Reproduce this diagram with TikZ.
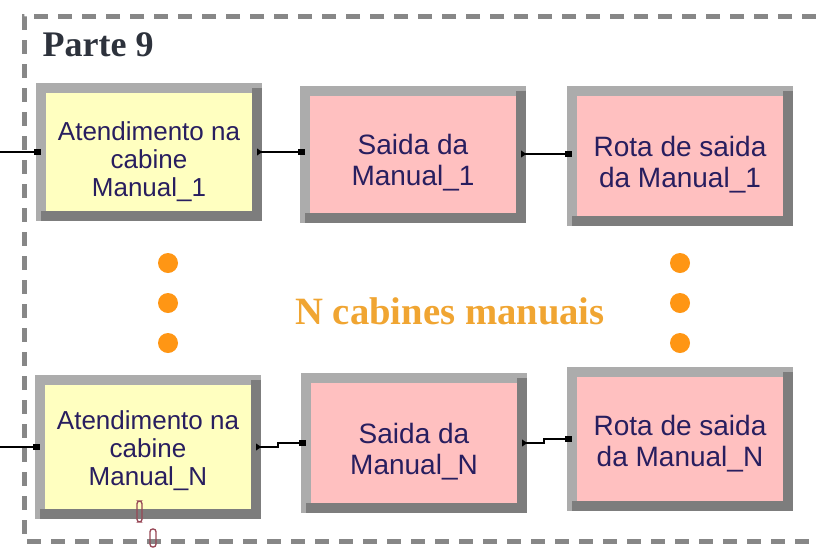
\documentclass[tikz,border=0pt]{standalone}
\usepackage{fontspec}
\setmainfont{Liberation Serif}
\newfontfamily\boxfont{Liberation Sans}
\usetikzlibrary{arrows.meta}

\definecolor{boxyellow}{RGB}{255,255,192}
\definecolor{boxpink}{RGB}{255,192,192}
\definecolor{bevlight}{RGB}{172,172,172}
\definecolor{bevdark}{RGB}{125,125,125}
\definecolor{labelblue}{RGB}{40,30,95}
\definecolor{dotorange}{RGB}{255,150,20}
\definecolor{textorange}{RGB}{240,165,50}
\definecolor{framegray}{RGB}{135,135,135}
\definecolor{titlegray}{RGB}{45,50,60}
\definecolor{ovalred}{RGB}{150,70,85}

\newcommand\droptext[1][28pt]{\rule{0pt}{#1}}

\tikzset{
  module/.style={draw=bevlight, line width=7.5pt, outer sep=0pt, inner sep=0pt,
    minimum width=162pt, minimum height=97.5pt, align=center, text=labelblue,
    font=\boxfont\fontsize{21pt}{23.5pt}\selectfont},
  service/.style={module, fill=boxyellow, font=\boxfont\fontsize{19.5pt}{21pt}\selectfont},
  exitbox/.style={module, fill=boxpink},
  bevel/.style={draw=bevdark, line width=7.5pt},
  link/.style={line width=1pt,
    {Triangle[reversed,length=4pt,width=5pt]}-{Square[length=5pt,width=5pt]}},
  feed/.style={line width=1pt, -{Square[length=5pt,width=5pt]}},
  framedash/.style={framegray, line width=3.75pt, dash pattern=on 10.5pt off 7.5pt},
}

\begin{document}
\begin{tikzpicture}[x=0.75pt, y=-0.75pt, line join=miter]
  \useasboundingbox (0,0) rectangle (816,547);

  \draw[framedash] (816,16) -- (24,16) -- (24,541) -- (816,541);

  \node[anchor=base west, text=titlegray, font=\bfseries\fontsize{27pt}{27pt}\selectfont]
    (title) at (38,56) {Parte 9};

  \node[service, minimum height=96pt] (a1) at (149,152) {\droptext Atendimento na\\cabine\\Manual\_1};
  \node[exitbox, minimum height=95.25pt] (s1) at (413,154) {\droptext Saida da\\Manual\_1};
  \node[exitbox] (r1) at (680,156) {\droptext Rota de saida\\da Manual\_1};

  \node[service, minimum height=100.5pt] (a4) at (148,447) {\droptext[19pt]Atendimento na\\cabine\\Manual\_N};
  \node[exitbox] (s5) at (414,443) {\droptext Saida da\\Manual\_N};
  \node[exitbox, minimum height=100.5pt] (r6) at (680,439) {\droptext[22pt]Rota de saida\\da Manual\_N};

  \foreach \n in {a1,s1,r1,a4,s5,r6}
    \draw[bevel] (\n.north east) -- (\n.south east) -- (\n.south west);

  \coordinate (in1) at (0,152);
  \coordinate (in4) at (0,447);

  \draw[feed] (in1) -- (a1.west);
  \draw[link] (a1.east) -- (a1.east -| s1.west);
  \draw[link] (s1.east) -- (s1.east -| r1.west);

  \draw[feed] (in4) -- (a4.west);
  \draw[link] (a4.east) -- ++(22,0) |- (s5.west);
  \draw[link] (s5.east) -- ++(22,0) |- (r6.west);

  \foreach \y in {263,303,343} {
    \fill[dotorange] (168,\y) circle (10);
    \fill[dotorange] (680,\y) circle (10);
  }

  \node[text=textorange, font=\bfseries\fontsize{29pt}{29pt}\selectfont]
    (note) at (450,311) {N cabines manuais};

  \draw[ovalred, line width=1pt, rounded corners=2pt] (137,501) rectangle (142,522);
  \draw[ovalred, line width=1pt, rounded corners=2pt] (150,529) rectangle (156,547);
\end{tikzpicture}
\end{document}
